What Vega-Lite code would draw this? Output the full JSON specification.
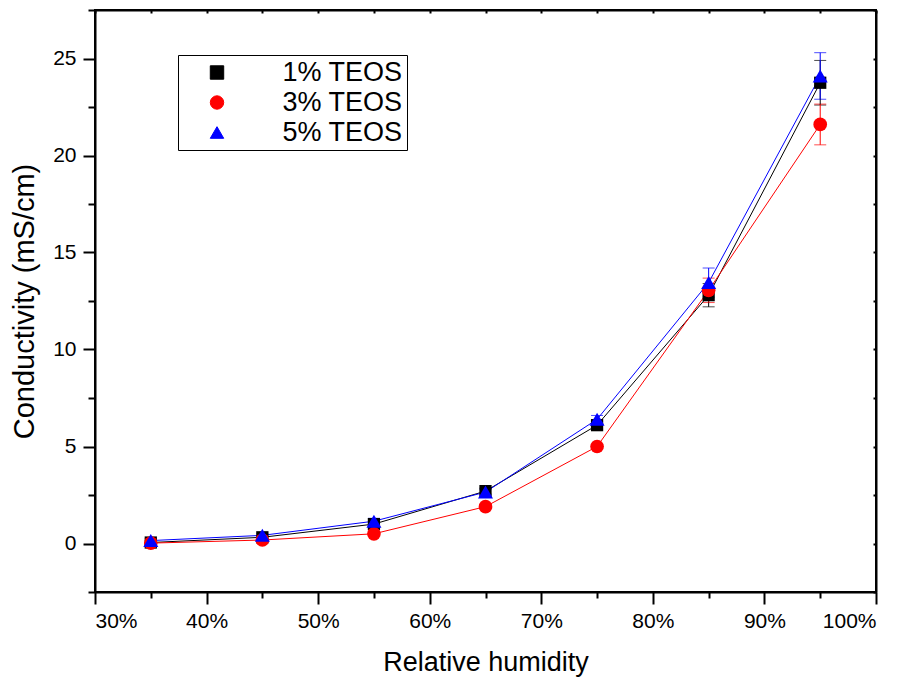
{
  "$schema": "https://vega.github.io/schema/vega-lite/v6.json",
  "width": 781,
  "height": 582,
  "autosize": "none",
  "padding": {"left": 95, "top": 10, "right": 31, "bottom": 85},
  "background": "white",
  "config": {
    "font": "Liberation Sans",
    "view": {"stroke": "black", "strokeWidth": 2},
    "axis": {
      "grid": false,
      "domainColor": "black",
      "domainWidth": 2,
      "tickColor": "black",
      "tickWidth": 2,
      "labelColor": "black",
      "labelFont": "Liberation Sans",
      "labelFontSize": 21,
      "titleFont": "Liberation Sans",
      "titleFontSize": 27,
      "titleFontWeight": "normal",
      "titleColor": "black"
    },
    "legend": {
      "orient": "none", "legendX": 83, "legendY": 45, "title": null,
      "strokeColor": "black", "fillColor": "white", "padding": 4,
      "labelFontSize": 27, "labelFont": "Liberation Sans", "labelColor": "black",
      "symbolSize": 180, "symbolOpacity": 1, "symbolStrokeWidth": 1,
      "symbolOffset": 21.5, "rowPadding": 2, "labelOffset": 52
    }
  },
  "data": {
    "values": [
      {"rh": 35, "series": "1% TEOS", "cond": 0.05, "err": 0.1},
      {"rh": 45, "series": "1% TEOS", "cond": 0.32, "err": 0.1},
      {"rh": 55, "series": "1% TEOS", "cond": 1.0, "err": 0.15},
      {"rh": 65, "series": "1% TEOS", "cond": 2.7, "err": 0.15},
      {"rh": 75, "series": "1% TEOS", "cond": 6.1, "err": 0.2},
      {"rh": 85, "series": "1% TEOS", "cond": 12.8, "err": 0.6},
      {"rh": 95, "series": "1% TEOS", "cond": 23.75, "err": 1.15},
      {"rh": 35, "series": "3% TEOS", "cond": 0.02, "err": 0.05},
      {"rh": 45, "series": "3% TEOS", "cond": 0.18, "err": 0.05},
      {"rh": 55, "series": "3% TEOS", "cond": 0.5, "err": 0.1},
      {"rh": 65, "series": "3% TEOS", "cond": 1.9, "err": 0.1},
      {"rh": 75, "series": "3% TEOS", "cond": 5.0, "err": 0.1},
      {"rh": 85, "series": "3% TEOS", "cond": 13.05, "err": 0.63},
      {"rh": 95, "series": "3% TEOS", "cond": 21.6, "err": 1.05},
      {"rh": 35, "series": "5% TEOS", "cond": 0.15, "err": 0.1},
      {"rh": 45, "series": "5% TEOS", "cond": 0.42, "err": 0.1},
      {"rh": 55, "series": "5% TEOS", "cond": 1.15, "err": 0.15},
      {"rh": 65, "series": "5% TEOS", "cond": 2.65, "err": 0.15},
      {"rh": 75, "series": "5% TEOS", "cond": 6.4, "err": 0.2},
      {"rh": 85, "series": "5% TEOS", "cond": 13.45, "err": 0.75},
      {"rh": 95, "series": "5% TEOS", "cond": 24.1, "err": 1.2}
    ]
  },
  "resolve": {"axis": {"x": "independent", "y": "independent"}},
  "layer": [
    {
      "mark": {"type": "errorbar", "ticks": {"size": 12}, "rule": {"strokeWidth": 1}},
      "encoding": {
        "x": {"field": "rh", "type": "quantitative", "axis": null,
              "scale": {"domain": [30, 100], "nice": false}},
        "y": {"field": "cond", "type": "quantitative", "axis": null,
              "scale": {"domain": [-2.5, 27.5], "nice": false, "zero": false}},
        "yError": {"field": "err"},
        "color": {"field": "series", "type": "nominal",
                  "scale": {"domain": ["1% TEOS", "3% TEOS", "5% TEOS"], "range": ["#000000", "#ff0000", "#0000ff"]}}
      }
    },
    {
      "mark": {"type": "line", "strokeWidth": 1},
      "encoding": {
        "x": {
          "field": "rh", "type": "quantitative",
          "axis": {
            "orient": "bottom",
            "title": "Relative humidity",
            "values": [30, 35, 40, 45, 50, 55, 60, 65, 70, 75, 80, 85, 90, 95, 100],
            "labelExpr": "datum.value % 10 === 0 ? datum.value + '%' : ''",
            "tickSize": {"condition": {"test": "datum.value % 10 === 0", "value": 12}, "value": 6},
            "labelPadding": 6,
            "titlePadding": 18
          }
        },
        "y": {
          "field": "cond", "type": "quantitative",
          "axis": {
            "orient": "left",
            "title": "Conductivity (mS/cm)",
            "titleFontSize": 29,
            "values": [-2.5, 0, 2.5, 5, 7.5, 10, 12.5, 15, 17.5, 20, 22.5, 25, 27.5],
            "labelExpr": "datum.value % 5 === 0 ? datum.label : ''",
            "tickSize": {"condition": {"test": "datum.value % 5 === 0", "value": 12}, "value": 7},
            "labelPadding": 7,
            "titlePadding": 13
          }
        },
        "color": {"field": "series", "type": "nominal"}
      }
    },
    {
      "mark": {"type": "point", "filled": true, "opacity": 1},
      "encoding": {
        "x": {
          "field": "rh", "type": "quantitative",
          "axis": {
            "orient": "top", "title": null, "labels": false,
            "values": [30, 35, 40, 45, 50, 55, 60, 65, 70, 75, 80, 85, 90, 95, 100],
            "tickSize": -3
          }
        },
        "y": {
          "field": "cond", "type": "quantitative",
          "axis": {
            "orient": "right", "title": null, "labels": false,
            "values": [-2.5, 0, 2.5, 5, 7.5, 10, 12.5, 15, 17.5, 20, 22.5, 25, 27.5],
            "tickSize": -3
          }
        },
        "size": {"field": "series", "type": "nominal", "legend": null,
                 "scale": {"range": [150, 225, 200]}},
        "shape": {"field": "series", "type": "nominal",
                  "scale": {"domain": ["1% TEOS", "3% TEOS", "5% TEOS"], "range": ["square", "circle", "triangle-up"]}},
        "color": {"field": "series", "type": "nominal"}
      }
    }
  ]
}
